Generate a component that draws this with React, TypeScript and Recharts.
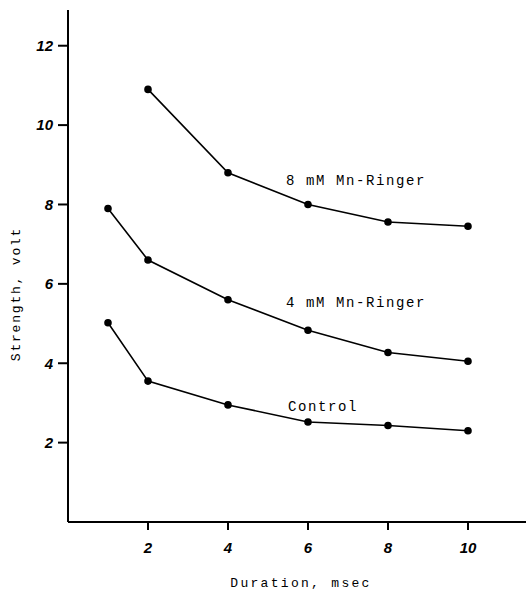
import { LineChart, Line, XAxis, YAxis, LabelList } from 'recharts';

// Strength-duration curves (msec vs volt)
const durations8mM = [2, 4, 6, 8, 10];
const strength8mM = [10.9, 8.8, 8.0, 7.56, 7.45];

const durations4mM = [1, 2, 4, 6, 8, 10];
const strength4mM = [7.9, 6.6, 5.6, 4.83, 4.27, 4.05];

const durationsControl = [1, 2, 4, 6, 8, 10];
const strengthControl = [5.02, 3.55, 2.95, 2.52, 2.43, 2.3];

const xTicks = [2, 4, 6, 8, 10];
const yTicks = [2, 4, 6, 8, 10, 12];

const toRows = (xs: number[], ys: number[]) => xs.map((x, i) => ({ x, y: ys[i] }));

const data8mM = toRows(durations8mM, strength8mM);
const data4mM = toRows(durations4mM, strength4mM);
const dataControl = toRows(durationsControl, strengthControl);

const MONO = '"Liberation Mono", "DejaVu Sans Mono", monospace';
const TICK_FONT = { fill: '#000', fontSize: 15, fontStyle: 'italic', fontWeight: 700, fontFamily: '"Liberation Sans", Arial, sans-serif' };

// draws the curve name next to one chosen point of a series
function seriesTag(text: string, atIndex: number, dx: number, dy: number) {
  return (props: any) => {
    if (props.index !== atIndex) return null;
    return (
      <text
        x={Number(props.x) + dx}
        y={Number(props.y) + dy}
        fill="#000"
        fontFamily={MONO}
        fontSize={14}
        letterSpacing={1.6}
      >
        {text}
      </text>
    );
  };
}

export default function App() {
  return (
    <div style={{ position: 'absolute', left: 0, top: 0, width: 526, height: 597, background: '#fff' }}>
      <LineChart width={526} height={597} margin={{ top: 10, right: 0, left: 0, bottom: 0 }}>
        <XAxis
          type="number"
          dataKey="x"
          domain={[0, 11.45]}
          ticks={xTicks}
          allowDataOverflow
          height={75}
          tickSize={8}
          tickMargin={12}
          tick={TICK_FONT}
          stroke="#000"
          strokeWidth={2}
        />
        <YAxis
          type="number"
          dataKey="y"
          domain={[0, 12.9]}
          ticks={yTicks}
          allowDataOverflow
          width={68}
          tickSize={10}
          tickMargin={5}
          tick={TICK_FONT}
          stroke="#000"
          strokeWidth={2}
        />
        <Line
          data={data8mM}
          dataKey="y"
          stroke="#000"
          strokeWidth={1.6}
          dot={{ r: 3, fill: '#000', stroke: '#000' }}
          isAnimationActive={false}
        >
          <LabelList dataKey="y" content={seriesTag('8 mM Mn-Ringer', 2, -22, -19)} />
        </Line>
        <Line
          data={data4mM}
          dataKey="y"
          stroke="#000"
          strokeWidth={1.6}
          dot={{ r: 3, fill: '#000', stroke: '#000' }}
          isAnimationActive={false}
        >
          <LabelList dataKey="y" content={seriesTag('4 mM Mn-Ringer', 3, -22, -23)} />
        </Line>
        <Line
          data={dataControl}
          dataKey="y"
          stroke="#000"
          strokeWidth={1.6}
          dot={{ r: 3, fill: '#000', stroke: '#000' }}
          isAnimationActive={false}
        >
          <LabelList dataKey="y" content={seriesTag('Control', 3, -20, -11)} />
        </Line>
      </LineChart>
      <div
        style={{
          position: 'absolute',
          left: 16,
          top: 294,
          transform: 'translate(-50%, -50%) rotate(-90deg)',
          whiteSpace: 'nowrap',
          fontFamily: MONO,
          fontSize: 13,
          letterSpacing: 1.8,
        }}
      >
        Strength, volt
      </div>
      <div
        style={{
          position: 'absolute',
          left: 301,
          top: 583,
          transform: 'translate(-50%, -50%)',
          whiteSpace: 'nowrap',
          fontFamily: MONO,
          fontSize: 13,
          letterSpacing: 2.3,
        }}
      >
        Duration, msec
      </div>
    </div>
  );
}
